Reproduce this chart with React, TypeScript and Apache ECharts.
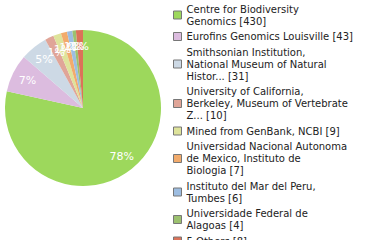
import React, { useEffect, useRef } from "react";
import * as echarts from "echarts";

const names = [
  "Centre for Biodiversity\nGenomics [430]",
  "Eurofins Genomics Louisville [43]",
  "Smithsonian Institution,\nNational Museum of Natural\nHistor... [31]",
  "University of California,\nBerkeley, Museum of Vertebrate\nZ... [10]",
  "Mined from GenBank, NCBI [9]",
  "Universidad Nacional Autonoma\nde Mexico, Instituto de\nBiologia [7]",
  "Instituto del Mar del Peru,\nTumbes [6]",
  "Universidade Federal de\nAlagoas [4]",
  "5 Others [8]",
];
const values = [430, 43, 31, 10, 9, 7, 6, 4, 8];
const colors = [
  "#9dd85c",
  "#dcbcdf",
  "#cdd9e5",
  "#e0a598",
  "#dee39b",
  "#f2ab6c",
  "#9dbde1",
  "#9cc16f",
  "#dc7259",
];

export default function App() {
  const ref = useRef<HTMLDivElement>(null);
  useEffect(() => {
    if (!ref.current) return;
    const chart = echarts.init(ref.current, undefined, { renderer: "svg" });
    const total = values.reduce((a, b) => a + b, 0);
    const data = names.map((n, i) => ({
      name: n,
      value: values[i],
      itemStyle: { color: colors[i] },
    }));
    chart.setOption({
      animation: false,
      legend: {
        orient: "vertical",
        left: 173,
        top: 3,
        height: 600,
        padding: 0,
        itemWidth: 8,
        itemHeight: 8,
        itemGap: 3.5,
        icon: "rect",
        itemStyle: { borderColor: "#777", borderWidth: 1 },
        textStyle: {
          fontFamily: "DejaVu Sans",
          fontSize: 10,
          lineHeight: 12,
          color: "#222",
        },
        data: names,
      },
      series: [
        {
          type: "pie",
          center: [83, 108],
          radius: [0, 78],
          startAngle: 90,
          clockwise: true,
          label: { show: false },
          labelLine: { show: false },
          emphasis: { disabled: true },
          data,
        },
        {
          type: "pie",
          center: [83, 108],
          radius: [40, 78],
          startAngle: 90,
          clockwise: true,
          silent: true,
          itemStyle: { color: "rgba(0,0,0,0)" },
          label: {
            show: true,
            position: "inside",
            color: "#fff",
            fontFamily: "DejaVu Sans",
            fontSize: 11,
            formatter: (p: any) => Math.floor((p.value / total) * 100) + "%",
          },
          labelLine: { show: false },
          labelLayout: { hideOverlap: false },
          emphasis: { disabled: true },
          data: values.map((v, i) => ({ name: names[i], value: v, itemStyle: { color: "rgba(0,0,0,0)" } })),
        },
      ],
    });
    return () => chart.dispose();
  }, []);
  return (
    <div
      ref={ref}
      style={{ position: "absolute", left: 0, top: 0, width: 380, height: 240 }}
    />
  );
}
